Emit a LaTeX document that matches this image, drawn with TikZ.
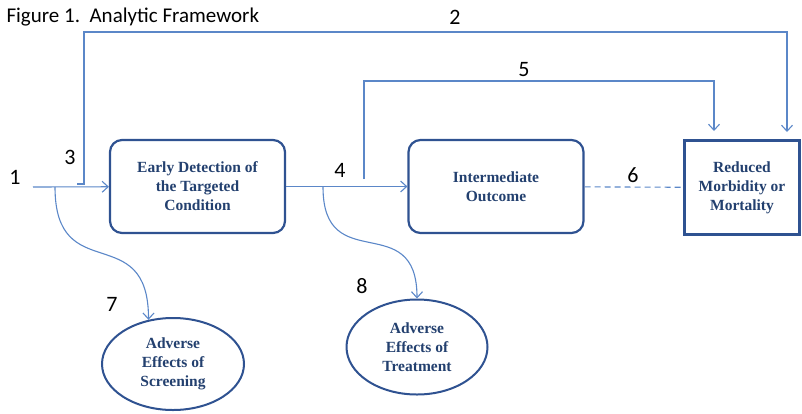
\documentclass[tikz,border=0pt]{standalone}
\usepackage{xcolor}
\usepackage{fontspec}
\setmainfont{Liberation Serif}
\newfontfamily\numfont{Carlito}
\usetikzlibrary{calc}
\usetikzlibrary{shapes.geometric, positioning, arrows.meta}
\definecolor{lineblue}{HTML}{5B87C8}
\definecolor{boxblue}{HTML}{2F5291}
\definecolor{textblue}{HTML}{23406F}
\tikzset{num/.style={font=\numfont\fontsize{22}{22}\selectfont, inner sep=0pt},
%default size of the open arrow tips
>={Straight Barb[length=6pt,width=11pt]}}

\begin{document}
\begin{tikzpicture}[-,auto,x=1pt,y=1pt,
                    line/.style={draw=lineblue,line width=1.1pt},
                    main node/.style={rectangle,rounded corners=12pt,draw=boxblue,line width=2.2pt,fill=white,align=center,text=textblue,font=\bfseries\fontsize{15.5}{19}\selectfont,minimum width=175pt,minimum height=93pt},
                    harm node/.style={ellipse,draw=boxblue,line width=2pt,fill=white,align=center,text=textblue,font=\bfseries\fontsize{15.5}{19}\selectfont,inner sep=0pt}]
  \useasboundingbox (0,0) rectangle (802,-413);

%DRAWING BOXES
  \node[main node] (Detect) at (197.5,-186.5) {Early Detection of\\the Targeted\\Condition};
  \node[main node] (Inter) at (496,-186.5) {Intermediate\\Outcome};
  \node[main node,rounded corners=0pt,line width=2.6pt,minimum width=115pt,minimum height=94pt] (Reduced) at (742,-187.5) {Reduced\\Morbidity or\\Mortality};
  \node[harm node,minimum width=142pt,minimum height=92pt] (Screen) at (173,-364) {Adverse\\Effects of\\Screening};
  \node[harm node,minimum width=141pt,minimum height=95pt] (Treat) at (417,-347) {Adverse\\Effects of\\Treatment};

  \node[anchor=west,font=\numfont\fontsize{21}{21}\selectfont] (Title) at (3,-17) {Figure 1.\ \ Analytic Framework};

%DRAWING ARROWS
  \coordinate (1Start) at (33,-187);
  \coordinate (3Start) at (77,-184);
  \coordinate (2End) at (787,-132);
  \coordinate (5Start) at (364,-179);
  \coordinate (5End) at (714,-131);
  \coordinate (7Start) at (55,-187);
  \coordinate (8Start) at (323,-187);

  \draw[line,->] (1Start) -- (Detect);
  \draw[line,->] (3Start) -| ++(7,152) -| (2End);
  \draw[line,->] (Detect) -- (Inter);
  \draw[line,->] (5Start) -- ++(0,98) -| (5End);
  \draw[line,dash pattern=on 6pt off 4pt] (Inter) -- (Reduced);
  \draw[line,->] (7Start) to[out=-90,in=90,looseness=1.6] (Screen.119);
  \draw[line,->] (8Start) to[out=-90,in=90,looseness=1.6] (Treat.north);

%DRAWING NUMBERS
  \node[num] (1) at (15,-177) {1};
  \node[num] (2) at (455,-17) {2};
  \node[num] (3) at (70,-157) {3};
  \node[num] (4) at (340,-170) {4};
  \node[num] (5) at (524,-70) {5};
  \node[num] (6) at (633,-175) {6};
  \node[num] (7) at (112,-304) {7};
  \node[num] (8) at (362,-286) {8};

\end{tikzpicture}
\end{document}
